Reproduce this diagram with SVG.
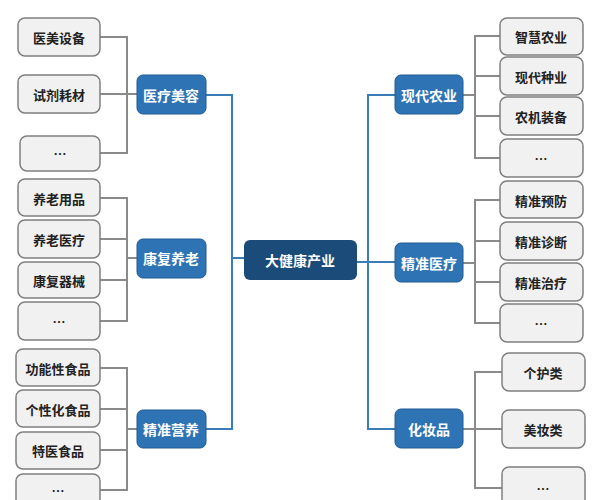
<svg xmlns="http://www.w3.org/2000/svg" width="603" height="500" viewBox="0 0 603 500">
<style>
.leaf{fill:#f1f1f1;stroke:#7f7f7f;stroke-width:1.5}
.cat{fill:#2e74b5;stroke:#1f5a94;stroke-width:1}
.root{fill:#1b4b78}
text{font-family:"Noto Sans CJK SC","Liberation Sans",sans-serif;font-weight:bold;font-size:13px;text-anchor:middle;dominant-baseline:central}
.lt{fill:#222}
.wt{fill:#fff;font-size:14px}
.g{fill:none;stroke:#8a8a8a;stroke-width:2}
.b{fill:none;stroke:#3a7cb8;stroke-width:2}
</style>
<rect width="603" height="500" fill="#fff"/>
<g id="connectors">
<path class="g" d="M100 37H127V153H100M100 94H137"/>
<path class="g" d="M100 198H127V321H100M100 239H127M100 280H127M127 258H137"/>
<path class="g" d="M100 368H127V490H100M100 409H127M100 450H127M127 429H137"/>
<path class="g" d="M500 36H475V158H500M500 76H475M500 116H475M463 95H475"/>
<path class="g" d="M500 200H475V323H500M500 241H475M500 282H475M463 263H475"/>
<path class="g" d="M502 372H475V488H502M502 429H463"/>
<path class="b" d="M206 95H232V429H206M232 258H244"/>
<path class="b" d="M395 95H368V429H395M357 262H395"/>
</g>
<g id="root"><rect class="root" x="244" y="240" width="113" height="40" rx="6"/><text class="wt" x="300" y="260">大健康产业</text></g>
<g id="c1"><rect class="cat" x="137" y="75" width="69" height="39" rx="6"/><text class="wt" x="171" y="95">医疗美容</text></g>
<g id="c2"><rect class="cat" x="137" y="239" width="69" height="39" rx="6"/><text class="wt" x="171" y="258">康复养老</text></g>
<g id="c3"><rect class="cat" x="137" y="410" width="69" height="38" rx="6"/><text class="wt" x="171" y="429">精准营养</text></g>
<g id="c4"><rect class="cat" x="395" y="75" width="68" height="39" rx="6"/><text class="wt" x="429" y="95">现代农业</text></g>
<g id="c5"><rect class="cat" x="395" y="243" width="68" height="39" rx="6"/><text class="wt" x="429" y="263">精准医疗</text></g>
<g id="c6"><rect class="cat" x="395" y="409" width="68" height="39" rx="6"/><text class="wt" x="429" y="429">化妆品</text></g>
<g id="l1"><rect class="leaf" x="18" y="18" width="82" height="38" rx="7"/><text class="lt" x="59" y="37">医美设备</text></g>
<g id="l2"><rect class="leaf" x="18" y="75" width="82" height="38" rx="7"/><text class="lt" x="59" y="94">试剂耗材</text></g>
<g id="l3"><rect class="leaf" x="20" y="136" width="80" height="35" rx="7"/><text class="lt" x="60" y="153">…</text></g>
<g id="l4"><rect class="leaf" x="18" y="179" width="82" height="37" rx="7"/><text class="lt" x="59" y="198">养老用品</text></g>
<g id="l5"><rect class="leaf" x="18" y="220" width="82" height="38" rx="7"/><text class="lt" x="59" y="239">养老医疗</text></g>
<g id="l6"><rect class="leaf" x="18" y="262" width="82" height="36" rx="7"/><text class="lt" x="59" y="280">康复器械</text></g>
<g id="l7"><rect class="leaf" x="18" y="302" width="82" height="38" rx="7"/><text class="lt" x="59" y="321">…</text></g>
<g id="l8"><rect class="leaf" x="16" y="349" width="84" height="37" rx="7"/><text class="lt" x="58" y="368">功能性食品</text></g>
<g id="l9"><rect class="leaf" x="16" y="390" width="84" height="37" rx="7"/><text class="lt" x="58" y="409">个性化食品</text></g>
<g id="l10"><rect class="leaf" x="16" y="432" width="84" height="37" rx="7"/><text class="lt" x="58" y="450">特医食品</text></g>
<g id="l11"><rect class="leaf" x="16" y="474" width="84" height="36" rx="7"/><text class="lt" x="58" y="490">…</text></g>
<g id="r1"><rect class="leaf" x="500" y="18" width="83" height="37" rx="7"/><text class="lt" x="541" y="36">智慧农业</text></g>
<g id="r2"><rect class="leaf" x="500" y="57" width="83" height="38" rx="7"/><text class="lt" x="541" y="76">现代种业</text></g>
<g id="r3"><rect class="leaf" x="500" y="97" width="83" height="38" rx="7"/><text class="lt" x="541" y="116">农机装备</text></g>
<g id="r4"><rect class="leaf" x="500" y="139" width="83" height="38" rx="7"/><text class="lt" x="541" y="158">…</text></g>
<g id="r5"><rect class="leaf" x="500" y="181" width="83" height="37" rx="7"/><text class="lt" x="541" y="200">精准预防</text></g>
<g id="r6"><rect class="leaf" x="500" y="222" width="83" height="38" rx="7"/><text class="lt" x="541" y="241">精准诊断</text></g>
<g id="r7"><rect class="leaf" x="500" y="263" width="83" height="38" rx="7"/><text class="lt" x="541" y="282">精准治疗</text></g>
<g id="r8"><rect class="leaf" x="500" y="304" width="83" height="38" rx="7"/><text class="lt" x="541" y="323">…</text></g>
<g id="r9"><rect class="leaf" x="502" y="353" width="83" height="38" rx="7"/><text class="lt" x="543" y="372">个护类</text></g>
<g id="r10"><rect class="leaf" x="502" y="410" width="83" height="38" rx="7"/><text class="lt" x="543" y="429">美妆类</text></g>
<g id="r11"><rect class="leaf" x="502" y="467" width="83" height="40" rx="7"/><text class="lt" x="543" y="488">…</text></g>
</svg>
